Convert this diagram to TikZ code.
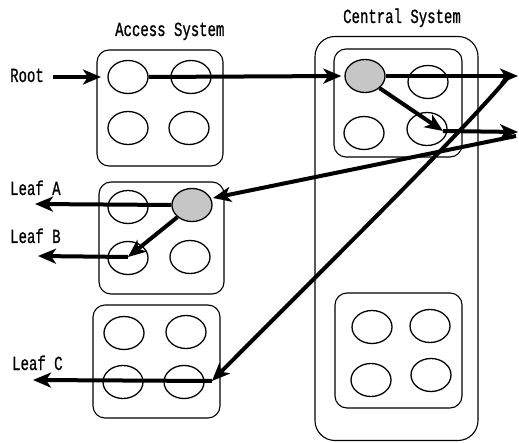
\documentclass[tikz,border=0pt]{standalone}
\usepackage{fontspec}
\newfontfamily\labelfont[FakeStretch=0.7,FakeBold=0.8]{Liberation Mono}
\usetikzlibrary{arrows.meta,shapes.geometric}
\tikzset{
  cell/.style={ellipse, draw, line width=1.3pt, minimum width=40pt, minimum height=33pt, inner sep=0pt},
  hot/.style={cell, fill=gray!45},
  sysbox/.style={draw, line width=1.1pt, rounded corners=12pt, inner sep=0pt},
  outerbox/.style={draw, line width=1.1pt, rounded corners=20pt, inner sep=0pt},
  flow/.style={line width=4pt, -{Stealth[length=18pt, width=15pt, inset=5pt]}},
  lbl/.style={font=\labelfont\fontsize{20pt}{22pt}\selectfont, inner sep=0pt, anchor=base west},
}
\begin{document}
\begin{tikzpicture}[x=1pt,y=-1pt]
\useasboundingbox (0,0) rectangle (519,443);
% boxes
\node[sysbox, minimum width=126pt, minimum height=116pt] (A1) at (160,108) {};
\node[sysbox, minimum width=125pt, minimum height=112pt] (A2) at (161.5,238) {};
\node[sysbox, minimum width=127pt, minimum height=113pt] (A3) at (156.5,361.5) {};
\node[outerbox, minimum width=163pt, minimum height=404pt] (C) at (396.5,238.5) {};
\node[sysbox, minimum width=128pt, minimum height=108pt] (C1) at (398,103) {};
\node[sysbox, minimum width=127pt, minimum height=115pt] (C2) at (398.5,350.5) {};
% cells
\node[cell] (a11) at (128,77) {};
\node[cell] (a12) at (191,77) {};
\node[cell] (a13) at (128,128) {};
\node[cell] (a14) at (189,128) {};
\node[cell] (a21) at (128,207) {};
\node[hot]  (a22) at (192,205) {};
\node[cell] (a23) at (128,258) {};
\node[cell] (a24) at (190,257) {};
\node[cell] (a31) at (124,333) {};
\node[cell] (a32) at (186,332) {};
\node[cell] (a33) at (123,382) {};
\node[cell] (a34) at (184,382) {};
\node[hot]  (c1) at (365,76) {};
\node[cell] (c2) at (428,82) {};
\node[cell] (c3) at (364,133) {};
\node[cell] (c4) at (427,129) {};
\node[cell] (d1) at (372,327) {};
\node[cell] (d2) at (430,326) {};
\node[cell] (d3) at (371,380) {};
\node[cell] (d4) at (431,375) {};
% labels
\node[lbl] (tA) at (115,36) {Access System};
\node[lbl] (tC) at (343,23) {Central System};
\node[lbl] (root) at (10,82) {Root};
\node[lbl] (lA) at (10,195) {Leaf A};
\node[lbl] (lB) at (10,243) {Leaf B};
\node[lbl] (lC) at (12,370) {Leaf C};
% coordinates
\coordinate (rs) at (53,77);
\coordinate (rt) at (101,77);
\coordinate (o1) at (518,76);
\coordinate (p4) at (443,131);
\coordinate (o2) at (518,132);
\coordinate (o2b) at (516,136);
\coordinate (o1b) at (511,74);
\coordinate (hitA) at (213,198);
\coordinate (hitC) at (212,381);
\coordinate (pB) at (128,257);
\coordinate (eA) at (35,204);
\coordinate (eB) at (38,256);
\coordinate (eC) at (33,380);
% connectors
\draw[flow] (rs) -- (rt);
\draw[flow] (a11.east) -- ([xshift=-3pt]c1.west);
\draw[flow] (c1.east) -- (o1);
\draw[flow] (c1.south east) -- (p4);
\draw[flow] (p4) -- (o2);
\draw[flow] (o2b) -- (hitA);
\draw[flow] (o1b) .. controls (460,135) and (330,262) .. (hitC);
\draw[flow] (a22.west) -- (eA);
\draw[flow] (a22.south west) -- (pB);
\draw[flow] (pB) -- (eB);
\draw[flow] (hitC) -- (eC);
\end{tikzpicture}
\end{document}
